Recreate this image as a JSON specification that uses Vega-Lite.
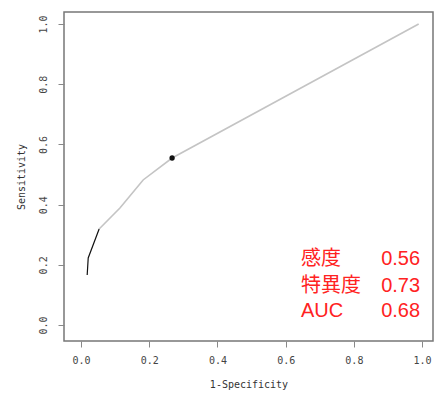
{
  "$schema": "https://vega.github.io/schema/vega-lite/v6.json",
  "autosize": "none",
  "width": 369,
  "height": 329,
  "padding": {"left": 64, "top": 12, "right": 5, "bottom": 53},
  "background": "white",
  "config": {
    "view": {"stroke": "#777777", "strokeWidth": 1.5},
    "axis": {
      "grid": false,
      "domain": false,
      "tickColor": "#888888",
      "tickSize": 6,
      "labelFont": "DejaVu Sans Mono",
      "labelFontSize": 10,
      "labelColor": "#444444",
      "titleFont": "DejaVu Sans Mono",
      "titleFontSize": 10,
      "titleFontWeight": "normal",
      "titleColor": "#333333"
    }
  },
  "datasets": {
    "black": [
      {"fpr": 0.018, "tpr": 0.166},
      {"fpr": 0.021, "tpr": 0.223},
      {"fpr": 0.053, "tpr": 0.319}
    ],
    "gray": [
      {"fpr": 0.053, "tpr": 0.319},
      {"fpr": 0.114, "tpr": 0.389},
      {"fpr": 0.182, "tpr": 0.482},
      {"fpr": 0.267, "tpr": 0.555},
      {"fpr": 0.99, "tpr": 1.0}
    ],
    "point": [{"fpr": 0.267, "tpr": 0.555}],
    "stats": [
      {"label": "感度", "value": "0.56", "lx": 0.645, "vx": 0.88, "ty": 0.199},
      {"label": "特異度", "value": "0.73", "lx": 0.645, "vx": 0.88, "ty": 0.11},
      {"label": "AUC", "value": "0.68", "lx": 0.645, "vx": 0.88, "ty": 0.027}
    ]
  },
  "layer": [
    {
      "data": {"name": "gray"},
      "mark": {"type": "line", "color": "#c4c4c4", "strokeWidth": 1.6},
      "encoding": {
        "x": {"field": "fpr", "type": "quantitative", "scale": {"domain": [-0.05, 1.032], "nice": false, "zero": false},
              "axis": {"values": [0, 0.2, 0.4, 0.6, 0.8, 1.0], "format": ".1f", "title": "1-Specificity", "labelPadding": 8, "titlePadding": 14}},
        "y": {"field": "tpr", "type": "quantitative", "scale": {"domain": [-0.053, 1.04], "nice": false, "zero": false},
              "axis": {"values": [0, 0.2, 0.4, 0.6, 0.8, 1.0], "format": ".1f", "title": "Sensitivity", "labelAngle": -90, "labelAlign": "center", "labelBaseline": "bottom", "labelPadding": 10, "titlePadding": 12}}
      }
    },
    {
      "data": {"name": "black"},
      "mark": {"type": "line", "color": "#111111", "strokeWidth": 1.2},
      "encoding": {
        "x": {"field": "fpr", "type": "quantitative"},
        "y": {"field": "tpr", "type": "quantitative"}
      }
    },
    {
      "data": {"name": "point"},
      "mark": {"type": "point", "filled": true, "color": "#111111", "size": 28, "opacity": 1},
      "encoding": {
        "x": {"field": "fpr", "type": "quantitative"},
        "y": {"field": "tpr", "type": "quantitative"}
      }
    },
    {
      "data": {"name": "stats"},
      "mark": {"type": "text", "color": "#ff2222", "fontSize": 20, "font": "Liberation Sans, Noto Sans CJK JP", "align": "left", "baseline": "alphabetic"},
      "encoding": {
        "x": {"field": "lx", "type": "quantitative"},
        "y": {"field": "ty", "type": "quantitative"},
        "text": {"field": "label"}
      }
    },
    {
      "data": {"name": "stats"},
      "mark": {"type": "text", "color": "#ff2222", "fontSize": 20, "font": "Liberation Sans, Noto Sans CJK JP", "align": "left", "baseline": "alphabetic"},
      "encoding": {
        "x": {"field": "vx", "type": "quantitative"},
        "y": {"field": "ty", "type": "quantitative"},
        "text": {"field": "value"}
      }
    }
  ]
}
